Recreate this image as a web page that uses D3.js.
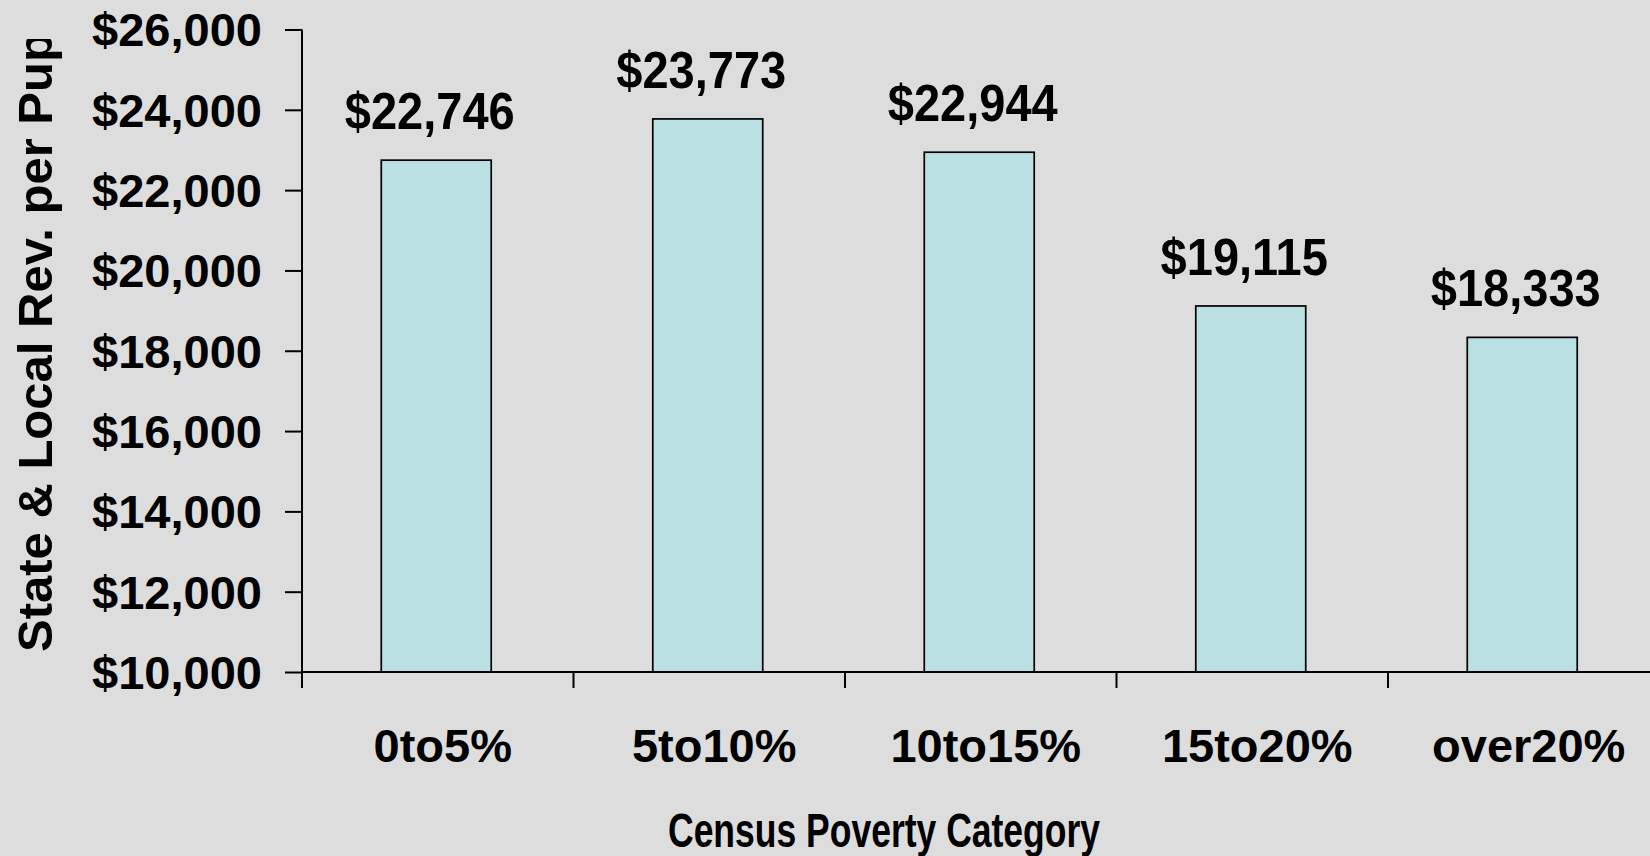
<!DOCTYPE html>
<html>
<head>
<meta charset="utf-8">
<script src="https://cdn.jsdelivr.net/npm/d3@7"></script>
<style>
  html, body { margin: 0; padding: 0; background: #dddddd; }
  svg { display: block; }
  text { font-family: "Liberation Sans", Arial, sans-serif; font-weight: bold; fill: #000; }
</style>
</head>
<body>
<svg id="chart" width="1650" height="856"></svg>
<script>
const categories = ["0to5%", "5to10%", "10to15%", "15to20%", "over20%"];
const values = [22746, 23773, 22944, 19115, 18333];
const yTicks = [10000, 12000, 14000, 16000, 18000, 20000, 22000, 24000, 26000];
const yTitle = "State & Local Rev. per Pupil";
const xTitle = "Census Poverty Category";

const W = 1650, H = 856;
const svg = d3.select("#chart");
svg.append("rect").attr("width", W).attr("height", H).attr("fill", "#dddddd");

const x = d3.scaleBand().domain(categories).range([302, 1659.5]).padding(0);
const y = d3.scaleLinear().domain([10000, 26000]).range([672, 29.5]);
const fmt = d => "$" + d3.format(",")(d);

// Y axis
const yAxis = svg.append("g").attr("transform", "translate(302,0)")
  .call(d3.axisLeft(y).tickValues(yTicks).tickSize(17).tickPadding(23).tickFormat(fmt));
yAxis.select(".domain").attr("stroke", "#000").attr("stroke-width", 2).attr("d", "M0," + y(26000) + "V688");
yAxis.selectAll(".tick line").attr("stroke", "#000").attr("stroke-width", 2);
yAxis.selectAll(".tick text").attr("font-size", 47).attr("font-family", "Liberation Sans, Arial, sans-serif")
  .attr("font-weight", "bold").attr("fill", "#000").attr("dy", "0.35em");

// Bars
svg.append("g").selectAll("rect").data(values).join("rect")
  .attr("x", (d, i) => x(categories[i]) + x.bandwidth() / 2 - x.bandwidth() * 0.405 / 2 - 1.5)
  .attr("width", x.bandwidth() * 0.405)
  .attr("y", d => y(d))
  .attr("height", d => y(10000) - y(d))
  .attr("fill", "#bae0e3")
  .attr("stroke", "#000")
  .attr("stroke-width", 1.7);

// X axis line and ticks (at band boundaries)
const xg = svg.append("g");
xg.append("line").attr("x1", x.range()[0]).attr("x2", W).attr("y1", y(10000)).attr("y2", y(10000))
  .attr("stroke", "#000").attr("stroke-width", 2);
xg.selectAll("line.tk").data(categories).join("line").attr("class", "tk")
  .attr("x1", d => x(d)).attr("x2", d => x(d))
  .attr("y1", y(10000)).attr("y2", y(10000) + 16)
  .attr("stroke", "#000").attr("stroke-width", 2);
xg.selectAll("text").data(categories).join("text")
  .attr("x", d => x(d) + x.bandwidth() / 2 + 5)
  .attr("y", 761.5)
  .attr("text-anchor", "middle")
  .attr("font-size", 47)
  .text(d => d);

// Value labels
svg.append("g").selectAll("text").data(values).join("text")
  .attr("transform", (d, i) => "translate(" + (x(categories[i]) + x.bandwidth() / 2 - 8) + "," + (y(d) - 31) + ") scale(1,1.09)")
  .attr("text-anchor", "middle")
  .attr("font-size", 47)
  .text(d => fmt(d));

// Axis titles
svg.append("text")
  .attr("x", 884).attr("y", 847)
  .attr("text-anchor", "middle")
  .attr("font-size", 48)
  .attr("textLength", 432)
  .attr("lengthAdjust", "spacingAndGlyphs")
  .text(xTitle);

svg.append("clipPath").attr("id", "yclip").append("rect")
  .attr("x", 0).attr("y", 39).attr("width", 80).attr("height", 800);
svg.append("g").attr("clip-path", "url(#yclip)")
  .append("text")
  .attr("transform", "translate(52,652) rotate(-90)")
  .attr("text-anchor", "start")
  .attr("font-size", 49)
  .text(yTitle);
</script>
</body>
</html>
